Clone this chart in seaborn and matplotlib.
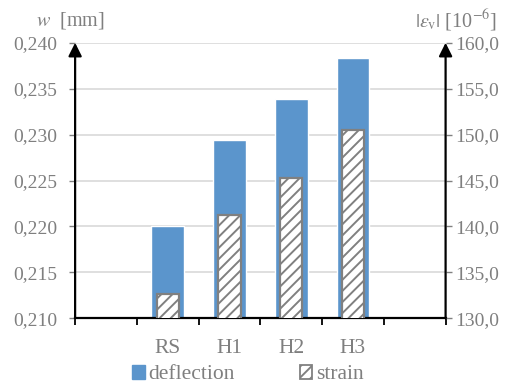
import matplotlib
matplotlib.use("Agg")
import matplotlib.pyplot as plt
import matplotlib.patches as mpatches
import seaborn as sns
import pandas as pd

# data
categories = ["RS", "H1", "H2", "H3"]
deflection = [0.2201, 0.2294, 0.2339, 0.2383]   # w [mm]
strain = [132.7, 141.3, 145.3, 150.5]           # |eps_v| [1e-6]

left_ticks = [0.210, 0.215, 0.220, 0.225, 0.230, 0.235, 0.240]
left_labels = ["0,210", "0,215", "0,220", "0,225", "0,230", "0,235", "0,240"]
right_ticks = [130, 135, 140, 145, 150, 155, 160]
right_labels = ["130,0", "135,0", "140,0", "145,0", "150,0", "155,0", "160,0"]

blue = "#5B95CC"
grey = "#808080"
txt = "#7f7f7f"

sns.set_style("white")
plt.rcParams["font.family"] = ["Liberation Serif", "DejaVu Serif"]
plt.rcParams["mathtext.fontset"] = "stix"
plt.rcParams["hatch.linewidth"] = 1.4
plt.rcParams["hatch.color"] = grey

df = pd.DataFrame({"cat": categories, "deflection": deflection, "strain": strain})

fig = plt.figure(figsize=(5.11, 3.87), dpi=100)
ax = fig.add_axes([0.147, 0.1775, 0.725, 0.712])
ax2 = ax.twinx()

sns.barplot(data=df, x="cat", y="deflection", color=blue, saturation=1,
            width=0.53, ax=ax, zorder=2)
sns.barplot(data=df, x="cat", y="strain", color="white", saturation=1,
            width=0.36, edgecolor=grey, linewidth=1.6, hatch="///", ax=ax2)

ax.set_ylim(0.210, 0.240)
ax2.set_ylim(130, 160)
ax.set_xlim(-1.5, 4.5)
ax2.set_xlim(-1.5, 4.5)

ax.set_yticks(left_ticks)
ax.set_yticklabels(left_labels)
ax2.set_yticks(right_ticks)
ax2.set_yticklabels(right_labels)

ax.set_xticks([-1.5, -0.5, 0.5, 1.5, 2.5, 3.5, 4.5])
ax.set_xticklabels([])
ax.set_xticks(range(len(categories)), minor=True)
ax.set_xticklabels(categories, minor=True)

ax.set_xlabel("")
ax.set_ylabel("")
ax2.set_ylabel("")
ax2.set_xlabel("")

ax.grid(axis="y", color="#d9d9d9", lw=1.2, zorder=0)
ax.set_axisbelow(True)

ax.tick_params(axis="y", which="major", direction="out", length=4, width=1,
               color=grey, labelsize=14, labelcolor=txt, pad=9, left=True)
ax2.tick_params(axis="y", which="major", direction="out", length=4, width=1,
                color=grey, labelsize=14, labelcolor=txt, pad=3, right=True)
ax.tick_params(axis="x", which="major", direction="out", length=5, width=1.3,
               color="black", bottom=True)
ax.tick_params(axis="x", which="minor", length=0, labelsize=15.5,
               labelcolor=txt, pad=15)

for a in (ax, ax2):
    for s in ["top", "left", "right"]:
        a.spines[s].set_visible(False)
ax2.spines["bottom"].set_visible(False)
ax.spines["bottom"].set_color("black")
ax.spines["bottom"].set_linewidth(1.6)

# axis lines with arrow heads
for xpos in (0, 1):
    ax2.annotate("", xy=(xpos, 1.0), xytext=(xpos, 0.0),
                 xycoords="axes fraction", textcoords="axes fraction",
                 arrowprops=dict(arrowstyle="-|>", color="black", lw=1.6,
                                 mutation_scale=20, shrinkA=0, shrinkB=0),
                 annotation_clip=False)

fig.text(0.137, 0.947, "$w$  [mm]", ha="center", va="center",
         fontsize=14.5, color=txt)
fig.text(0.893, 0.947, r"$|\varepsilon_{\mathrm{v}}|$ [10$^{-6}$]",
         ha="center", va="center", fontsize=14.5, color=txt)

handles = [mpatches.Patch(facecolor=blue, edgecolor=blue, label="deflection"),
           mpatches.Patch(facecolor="white", edgecolor=grey, hatch="///",
                         linewidth=1.3, label="strain")]
leg = fig.legend(handles=handles, loc="center", bbox_to_anchor=(0.485, 0.032),
                 ncol=2, frameon=False, fontsize=15.5, handlelength=0.6,
                 handleheight=0.6, handletextpad=0.15, columnspacing=3.0,
                 borderpad=0)
for t in leg.get_texts():
    t.set_color(txt)

fig.savefig("out.png", dpi=100)
